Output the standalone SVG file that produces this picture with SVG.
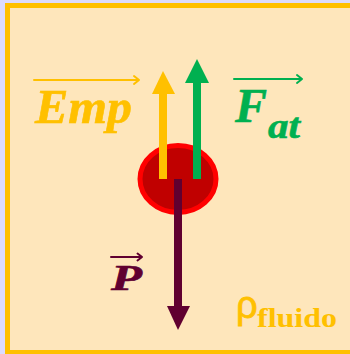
<svg xmlns="http://www.w3.org/2000/svg" width="350" height="354" viewBox="0 0 350 354">
  <defs>
    <style>
      .lbl { font-family: "Liberation Serif", "Times New Roman", serif; font-weight: bold; font-style: italic; stroke-width: 0.6; }
      .ov { fill: none; stroke-width: 2; stroke-linecap: round; stroke-linejoin: round; }
    </style>
  </defs>
  <rect x="0" y="0" width="350" height="354" fill="#dcdbfd"/>
  <rect id="fluid" x="7.5" y="5.5" width="346" height="347" fill="#fee6bb" stroke="#ffc000" stroke-width="5"/>

  <g id="body">
    <ellipse cx="178" cy="179" rx="38" ry="33.5" fill="#c00000" stroke="#ff0000" stroke-width="5"/>
  </g>

  <g id="connectors">
    <g id="arrow-emp" fill="#ffc000">
      <rect x="159" y="93" width="8" height="86"/>
      <polygon points="152,94 163,71 175,94"/>
    </g>
    <g id="arrow-fat" fill="#00b050">
      <rect x="193" y="82" width="8" height="97"/>
      <polygon points="185,83 197,59 209,83"/>
    </g>
    <g id="arrow-p" fill="#600030">
      <rect x="174" y="179" width="8" height="128"/>
      <polygon points="167,306 178,330 190,306"/>
    </g>
  </g>

  <g id="label-emp">
    <path class="ov" stroke="#ffc000" d="M34,80 H139 M134,76 L139,80 L134,84"/>
    <text class="lbl" x="35" y="123" font-size="48" fill="#ffc000" stroke="#ffc000" textLength="97" lengthAdjust="spacingAndGlyphs">Emp</text>
  </g>

  <g id="label-fat">
    <path class="ov" stroke="#00b050" d="M234,79 H302 M297,75 L302,79 L297,83"/>
    <text class="lbl" x="235" y="122" font-size="48" fill="#00b050" stroke="#00b050">F</text>
    <text class="lbl" x="268" y="138" font-size="36" fill="#00b050" stroke="#00b050" textLength="32" lengthAdjust="spacingAndGlyphs">at</text>
  </g>

  <g id="label-p">
    <path class="ov" stroke="#600030" d="M111,257 H142 M137.5,253.5 L142,257 L137.5,260.5" stroke-width="1.8"/>
    <text class="lbl" x="111" y="290" font-size="36" fill="#600030" stroke="#600030" textLength="31" lengthAdjust="spacingAndGlyphs">P</text>
  </g>

  <g id="label-rho">
    <text x="236" y="318" font-family="Liberation Sans, Arial, sans-serif" font-size="38" fill="#ffc000" stroke="#ffc000" stroke-width="0.8">ρ</text>
    <text x="257" y="327" font-family="Liberation Serif, Times New Roman, serif" font-weight="bold" font-size="28" fill="#ffc000" textLength="80" lengthAdjust="spacingAndGlyphs">fluido</text>
  </g>
</svg>
